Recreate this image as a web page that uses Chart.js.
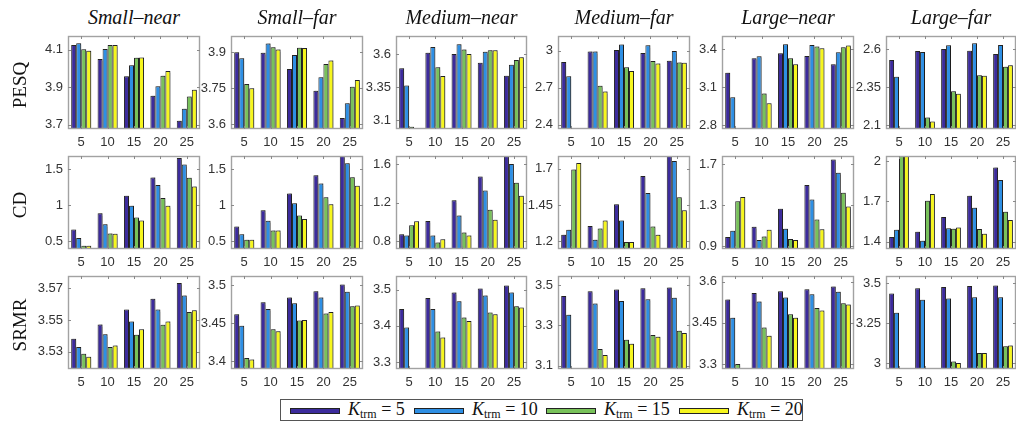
<!DOCTYPE html>
<html>
<head>
<meta charset="utf-8">
<script src="https://cdn.jsdelivr.net/npm/chart.js@4/dist/chart.umd.min.js"></script>
<style>
  html, body { margin: 0; padding: 0; background: #fff; }
  body { width: 1016px; height: 424px; position: relative; overflow: hidden; }
  canvas.cell { position: absolute; }
  .title { position: absolute; font: italic 20px "Liberation Serif", "Times New Roman", serif; color: #111;
           text-align: center; white-space: nowrap; transform: translate(-50%, -50%); }
  .rowlab { position: absolute; font: 19px "Liberation Serif", "Times New Roman", serif; color: #111;
            white-space: nowrap; transform: translate(-50%, -50%) rotate(-90deg); }
  #legend { position: absolute; left: 280px; top: 399px; width: 523px; height: 22px;
            border: 1px solid #555; box-sizing: border-box; background: #fff; }
  .sw { position: absolute; top: 8px; width: 50px; height: 6px; border: 1px solid #222; box-sizing: border-box; }
  .lt { position: absolute; top: -1px; font: 18px "Liberation Serif", "Times New Roman", serif; color: #111; white-space: nowrap; }
  .lt i { font-style: italic; }
  .lt sub { font-size: 12px; vertical-align: -3px; line-height: 0; }
</style>
</head>
<body>
<div id="legend"></div>
<script>
// Grid of experiments: noise-level conditions (columns) x metrics (rows)
const categories = ['5', '10', '15', '20', '25'];
const ktrmValues = ['5', '10', '15', '20'];
const conditions = ['Small\u2013near', 'Small\u2013far', 'Medium\u2013near', 'Medium\u2013far', 'Large\u2013near', 'Large\u2013far'];
const metrics = ['PESQ', 'CD', 'SRMR'];

// ---- PESQ (rows: K_trm = 5, 10, 15, 20; columns: categories) ----
const pesqSmallNear = [
  [4.124, 4.049, 3.957, 3.854, 3.720],
  [4.133, 4.103, 4.016, 3.904, 3.784],
  [4.101, 4.124, 4.056, 3.960, 3.850],
  [4.094, 4.124, 4.058, 3.985, 3.886]];
const pesqSmallFar = [
  [3.899, 3.897, 3.829, 3.739, 3.625],
  [3.874, 3.936, 3.888, 3.795, 3.686],
  [3.767, 3.920, 3.918, 3.850, 3.755],
  [3.749, 3.911, 3.917, 3.865, 3.783]];
const pesqMediumNear = [
  [3.492, 3.610, 3.600, 3.534, 3.436],
  [3.361, 3.653, 3.673, 3.617, 3.519],
  [3.049, 3.499, 3.634, 3.628, 3.555],
  [2.980, 3.433, 3.600, 3.628, 3.575]];
const pesqMediumFar = [
  [2.907, 2.993, 3.004, 2.980, 2.917],
  [2.791, 2.993, 3.050, 3.042, 2.996],
  [2.300, 2.715, 2.864, 2.915, 2.904],
  [2.300, 2.669, 2.834, 2.896, 2.901]];
const pesqLargeNear = [
  [3.215, 3.329, 3.368, 3.347, 3.282],
  [3.021, 3.345, 3.439, 3.434, 3.376],
  [2.700, 3.051, 3.329, 3.423, 3.416],
  [2.700, 2.975, 3.282, 3.408, 3.431]];
const pesqLargeFar = [
  [2.530, 2.589, 2.602, 2.591, 2.569],
  [2.420, 2.582, 2.626, 2.639, 2.628],
  [2.000, 2.152, 2.324, 2.429, 2.486],
  [2.000, 2.126, 2.309, 2.427, 2.495]];

// ---- CD ----
const cdSmallNear = [
  [0.665, 0.890, 1.133, 1.386, 1.656],
  [0.547, 0.739, 0.995, 1.280, 1.564],
  [0.441, 0.611, 0.830, 1.101, 1.381],
  [0.441, 0.606, 0.789, 0.995, 1.262]];
const cdSmallFar = [
  [0.706, 0.931, 1.165, 1.417, 1.690],
  [0.601, 0.785, 1.028, 1.303, 1.582],
  [0.523, 0.652, 0.858, 1.111, 1.390],
  [0.523, 0.652, 0.812, 1.014, 1.271]];
const cdMediumNear = [
  [0.876, 1.013, 1.228, 1.473, 1.700],
  [0.862, 0.862, 1.070, 1.328, 1.604],
  [0.969, 0.790, 0.893, 1.128, 1.408],
  [1.010, 0.824, 0.862, 1.025, 1.274]];
const cdMediumFar = [
  [1.246, 1.305, 1.455, 1.648, 1.800],
  [1.280, 1.212, 1.344, 1.532, 1.752],
  [1.693, 1.289, 1.196, 1.303, 1.503],
  [1.738, 1.344, 1.196, 1.245, 1.414]];
const cdLargeNear = [
  [0.991, 1.091, 1.267, 1.498, 1.745],
  [1.052, 0.962, 1.071, 1.356, 1.616],
  [1.339, 0.997, 0.972, 1.161, 1.423],
  [1.381, 1.062, 0.962, 1.068, 1.288]];
const cdLargeFar = [
  [1.435, 1.474, 1.584, 1.742, 1.951],
  [1.489, 1.407, 1.500, 1.653, 1.858],
  [2.100, 1.704, 1.496, 1.494, 1.622],
  [2.100, 1.754, 1.505, 1.460, 1.561]];

// ---- SRMR ----
const srmrSmallNear = [
  [3.5382, 3.5473, 3.5567, 3.5635, 3.5735],
  [3.5330, 3.5410, 3.5492, 3.5567, 3.5656],
  [3.5287, 3.5330, 3.5408, 3.5470, 3.5552],
  [3.5269, 3.5340, 3.5442, 3.5492, 3.5563]];
const srmrSmallFar = [
  [3.4617, 3.4773, 3.4836, 3.4918, 3.5005],
  [3.4465, 3.4687, 3.4762, 3.4836, 3.4910],
  [3.4044, 3.4422, 3.4534, 3.4627, 3.4721],
  [3.4026, 3.4396, 3.4543, 3.4645, 3.4730]];
const srmrMediumNear = [
  [3.4466, 3.4767, 3.4918, 3.5027, 3.5110],
  [3.3953, 3.4466, 3.4677, 3.4836, 3.4918],
  [3.2836, 3.3844, 3.4227, 3.4365, 3.4539],
  [3.2500, 3.3680, 3.4129, 3.4320, 3.4502]];
const srmrMediumFar = [
  [3.4467, 3.4704, 3.4788, 3.4852, 3.4886],
  [3.3528, 3.4096, 3.4220, 3.4301, 3.4375],
  [3.0500, 3.1825, 3.2294, 3.2524, 3.2741],
  [3.0500, 3.1528, 3.2096, 3.2440, 3.2622]];
const srmrLargeNear = [
  [3.5346, 3.5586, 3.5648, 3.5720, 3.5818],
  [3.4681, 3.5273, 3.5419, 3.5539, 3.5625],
  [3.3000, 3.4333, 3.4814, 3.5042, 3.5212],
  [3.2500, 3.4030, 3.4681, 3.4948, 3.5164]];
const srmrLargeFar = [
  [3.4336, 3.4671, 3.4752, 3.4814, 3.4839],
  [3.3145, 3.3950, 3.4037, 3.4112, 3.4112],
  [2.9000, 2.9000, 3.0099, 3.0620, 3.1055],
  [2.9000, 2.9000, 3.0000, 3.0620, 3.1096]];

// y-axis tick values per panel
const pesqTicks = [[3.7, 3.9, 4.1], [3.6, 3.75, 3.9], [3.1, 3.35, 3.6], [2.4, 2.7, 3], [2.8, 3.1, 3.4], [2.1, 2.35, 2.6]];
const cdTicks   = [[0.5, 1, 1.5], [0.5, 1, 1.5], [0.8, 1.2, 1.6], [1.2, 1.45, 1.7], [0.9, 1.3, 1.7], [1.4, 1.7, 2]];
const srmrTicks = [[3.53, 3.55, 3.57], [3.4, 3.45, 3.5], [3.3, 3.4, 3.5], [3.1, 3.3, 3.5], [3.3, 3.45, 3.6], [3, 3.25, 3.5]];

// y-axis limits per panel [min, max]
const pesqLimits = [[3.676, 4.172], [3.579, 3.967], [3.032, 3.736], [2.364, 3.118], [2.771, 3.505], [2.077, 2.687]];
const cdLimits   = [[0.395, 1.683], [0.395, 1.683], [0.722, 1.686], [1.148, 1.786], [0.875, 1.780], [1.346, 2.037]];
const srmrLimits = [[3.5191, 3.5779], [3.3901, 3.5117], [3.2808, 3.5373], [3.0837, 3.5460], [3.2819, 3.6202], [2.9628, 3.5434]];

const panelData = [
  [pesqSmallNear, pesqSmallFar, pesqMediumNear, pesqMediumFar, pesqLargeNear, pesqLargeFar],
  [cdSmallNear, cdSmallFar, cdMediumNear, cdMediumFar, cdLargeNear, cdLargeFar],
  [srmrSmallNear, srmrSmallFar, srmrMediumNear, srmrMediumFar, srmrLargeNear, srmrLargeFar]];
const panelTicks = [pesqTicks, cdTicks, srmrTicks];
const panelLimits = [pesqLimits, cdLimits, srmrLimits];

// ---- layout and styling ----
const barColors = ['#3c2b9c', '#2e8fe4', '#78c25a', '#f6f61e'];
const colLeft = [68, 231, 396, 558, 722, 886];
const colWidth = [132, 132, 131, 132, 132, 130];
const rowTop = [36, 156, 276];
const plotHeight = 93;
const padL = 50, padT = 6, padR = 4, padB = 24;

// Box outline with inward tick marks, drawn over the bars
const framePlugin = {
  id: 'frame',
  afterDatasetsDraw(chart) {
    const { ctx, chartArea: a, scales: { x, y } } = chart;
    ctx.save();
    ctx.strokeStyle = '#a2a2a2';
    ctx.lineWidth = 1.4;
    ctx.strokeRect(a.left + 0.5, a.top + 0.5, a.right - a.left - 1, a.bottom - a.top - 1);
    ctx.lineWidth = 1;
    ctx.strokeStyle = '#8a8a8a';
    ctx.beginPath();
    x.ticks.forEach((t, i) => {
      const px = Math.round(x.getPixelForTick(i)) + 0.5;
      ctx.moveTo(px, a.top); ctx.lineTo(px, a.top + 3);
      ctx.moveTo(px, a.bottom); ctx.lineTo(px, a.bottom - 3);
    });
    y.ticks.forEach(t => {
      const py = Math.round(y.getPixelForValue(t.value)) + 0.5;
      ctx.moveTo(a.left, py); ctx.lineTo(a.left + 3, py);
      ctx.moveTo(a.right, py); ctx.lineTo(a.right - 3, py);
    });
    ctx.stroke();
    ctx.restore();
  }
};

// Soft drop shadow behind the bars
const shadowPlugin = {
  id: 'barShadow',
  beforeDatasetsDraw(chart) {
    const ctx = chart.ctx;
    ctx.save();
    ctx.shadowColor = 'rgba(0,0,0,0.28)';
    ctx.shadowOffsetX = 1.5;
    ctx.shadowOffsetY = -1;
    ctx.shadowBlur = 1;
  },
  afterDatasetsDraw(chart) {
    chart.ctx.restore();
  }
};

const tickFont = { family: '"Liberation Sans", Arial, sans-serif', size: 13 };

function makePanel(r, c) {
  const w = colWidth[c];
  const canvas = document.createElement('canvas');
  canvas.className = 'cell';
  canvas.width = w + padL + padR;
  canvas.height = plotHeight + padT + padB;
  canvas.style.left = (colLeft[c] - padL) + 'px';
  canvas.style.top = (rowTop[r] - padT) + 'px';
  document.body.appendChild(canvas);

  const values = panelData[r][c];
  const ticks = panelTicks[r][c];
  const [ymin, ymax] = panelLimits[r][c];

  new Chart(canvas, {
    type: 'bar',
    data: {
      labels: categories,
      datasets: ktrmValues.map((k, i) => ({
        label: 'K_trm = ' + k,
        data: values[i],
        backgroundColor: barColors[i],
        borderColor: '#262626',
        borderWidth: 1,
        borderSkipped: false,
        categoryPercentage: 0.76,
        barPercentage: 1.0,
        clip: 0
      }))
    },
    options: {
      responsive: false,
      animation: false,
      devicePixelRatio: 1,
      events: [],
      layout: { padding: { top: padT, right: padR, left: 0, bottom: 0 } },
      plugins: { legend: { display: false }, tooltip: { enabled: false }, title: { display: false } },
      scales: {
        x: {
          type: 'category',
          offset: true,
          grid: { display: false, drawTicks: false },
          border: { display: false },
          ticks: { font: tickFont, color: '#333', padding: 6, maxRotation: 0, autoSkip: false },
          afterFit(scale) { scale.height = padB; scale.paddingLeft = 0; scale.paddingRight = 0; }
        },
        y: {
          type: 'linear',
          min: ymin,
          max: ymax,
          grid: { display: false, drawTicks: false },
          border: { display: false },
          ticks: { font: tickFont, color: '#333', padding: 5, callback: v => String(v) },
          afterBuildTicks(scale) { scale.ticks = ticks.map(v => ({ value: v })); },
          afterFit(scale) { scale.width = padL; scale.paddingTop = 0; scale.paddingBottom = 0; }
        }
      }
    },
    plugins: [shadowPlugin, framePlugin]
  });
}

for (let r = 0; r < metrics.length; r++) {
  for (let c = 0; c < conditions.length; c++) makePanel(r, c);
}

// Column titles
conditions.forEach((name, c) => {
  const d = document.createElement('div');
  d.className = 'title';
  d.textContent = name;
  d.style.left = (colLeft[c] + colWidth[c] / 2) + 'px';
  d.style.top = '17px';
  document.body.appendChild(d);
});

// Row labels
metrics.forEach((name, r) => {
  const d = document.createElement('div');
  d.className = 'rowlab';
  d.textContent = name;
  d.style.left = '20px';
  d.style.top = (rowTop[r] + plotHeight / 2 + 2) + 'px';
  document.body.appendChild(d);
});

// Legend
const legend = document.getElementById('legend');
const swatchX = [9, 133, 265, 398];
ktrmValues.forEach((k, i) => {
  const sw = document.createElement('div');
  sw.className = 'sw';
  sw.style.left = swatchX[i] + 'px';
  sw.style.background = barColors[i];
  legend.appendChild(sw);
  const t = document.createElement('div');
  t.className = 'lt';
  t.style.left = (swatchX[i] + 58) + 'px';
  t.innerHTML = '<i>K</i><sub>trm</sub> = ' + k;
  legend.appendChild(t);
});
</script>
</body>
</html>
